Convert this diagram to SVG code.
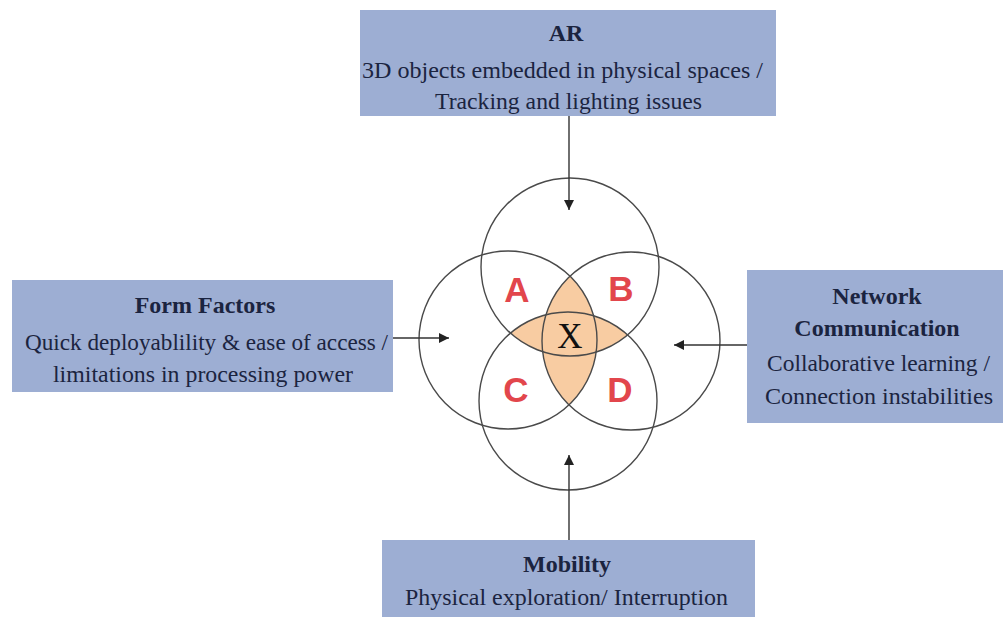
<svg xmlns="http://www.w3.org/2000/svg" width="1003" height="617" viewBox="0 0 1003 617">
<style>
.box{fill:#9DAED3;}
.t{font-family:'Liberation Serif','DejaVu Serif',Times,serif;font-size:24px;fill:#1B2440;text-anchor:middle;}
.b{font-weight:bold;}
.ring{fill:none;stroke:#4a4a4a;stroke-width:1.4;}
.lbl{font-family:'Liberation Sans',sans-serif;font-weight:bold;font-size:35px;fill:#E2464C;text-anchor:middle;}
.x{font-family:'Liberation Serif','DejaVu Serif',serif;font-size:35px;fill:#111;text-anchor:middle;}
.conn{stroke:#333;stroke-width:1.4;fill:none;marker-end:url(#ah);}
</style>
<defs>
<marker id="ah" viewBox="0 0 10 10" refX="10" refY="5" markerWidth="10" markerHeight="10" markerUnits="userSpaceOnUse" orient="auto">
<path d="M0,0 L10,5 L0,10 Z" fill="#222"/>
</marker>
<clipPath id="cR"><circle cx="631" cy="341" r="89"/></clipPath>
<clipPath id="cB"><circle cx="568" cy="401" r="89"/></clipPath>
</defs>
<rect width="1003" height="617" fill="#fff"/>

<g id="venn">
<circle cx="508" cy="340" r="89" fill="#F8CCA2" clip-path="url(#cR)"/>
<circle cx="570" cy="267" r="89" fill="#F8CCA2" clip-path="url(#cB)"/>
<circle class="ring" cx="570" cy="267" r="89"/>
<circle class="ring" cx="508" cy="340" r="89"/>
<circle class="ring" cx="631" cy="341" r="89"/>
<circle class="ring" cx="568" cy="401" r="89"/>
<text class="lbl" x="517" y="302">A</text>
<text class="lbl" x="621" y="301">B</text>
<text class="lbl" x="516" y="402">C</text>
<text class="lbl" x="620" y="402">D</text>
<text class="x" x="570" y="348">X</text>
</g>

<g id="ar">
<rect class="box" x="360" y="10" width="416" height="106"/>
<text class="t b" x="566" y="41">AR</text>
<text class="t" x="562.5" y="78" textLength="401" lengthAdjust="spacingAndGlyphs">3D objects embedded in physical spaces /</text>
<text class="t" x="568.5" y="109" textLength="267" lengthAdjust="spacingAndGlyphs">Tracking and lighting issues</text>
</g>

<g id="form-factors">
<rect class="box" x="12" y="280" width="381" height="112"/>
<text class="t b" x="205" y="313">Form Factors</text>
<text class="t" x="206.5" y="350" textLength="363" lengthAdjust="spacingAndGlyphs">Quick deployablility &amp; ease of access /</text>
<text class="t" x="203" y="382" textLength="300" lengthAdjust="spacingAndGlyphs">limitations in processing power</text>
</g>

<g id="network">
<rect class="box" x="747" y="270" width="260" height="153"/>
<text class="t b" x="877" y="304">Network</text>
<text class="t b" x="877" y="336">Communication</text>
<text class="t" x="878.5" y="371" textLength="223" lengthAdjust="spacingAndGlyphs">Collaborative learning /</text>
<text class="t" x="879" y="404" textLength="228" lengthAdjust="spacingAndGlyphs">Connection instabilities</text>
</g>

<g id="mobility">
<rect class="box" x="382" y="540" width="373" height="80"/>
<text class="t b" x="567" y="572">Mobility</text>
<text class="t" x="566.5" y="605" textLength="323" lengthAdjust="spacingAndGlyphs">Physical exploration/ Interruption</text>
</g>

<g id="connectors">
<line class="conn" x1="569" y1="116" x2="569" y2="210"/>
<line class="conn" x1="393" y1="338" x2="449" y2="338"/>
<line class="conn" x1="747" y1="345" x2="674" y2="345"/>
<line class="conn" x1="569" y1="540" x2="569" y2="455"/>
</g>
</svg>
